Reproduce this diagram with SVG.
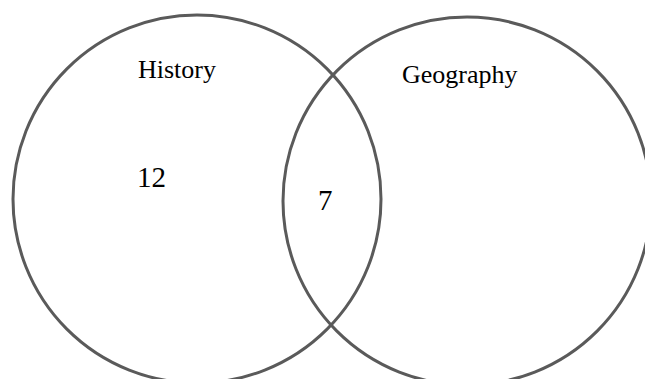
<svg xmlns="http://www.w3.org/2000/svg" width="645" height="379" viewBox="0 0 645 379">
<style>
.c{fill:none;stroke:#5a5a5a;stroke-width:3}
.t{font-family:"Liberation Serif","Times New Roman",serif;fill:#000}
</style>
<rect width="645" height="379" fill="#fff"/>
<g id="history">
<circle class="c" cx="197" cy="199" r="184"/>
<text class="t" x="138" y="78" font-size="26">History</text>
<text class="t" x="137" y="187" font-size="29">12</text>
</g>
<g id="geography">
<circle class="c" cx="467" cy="201" r="184"/>
<text class="t" x="402" y="83" font-size="26">Geography</text>
</g>
<g id="intersection">
<text class="t" x="318" y="210" font-size="29">7</text>
</g>
<g id="connectors"></g>
</svg>
